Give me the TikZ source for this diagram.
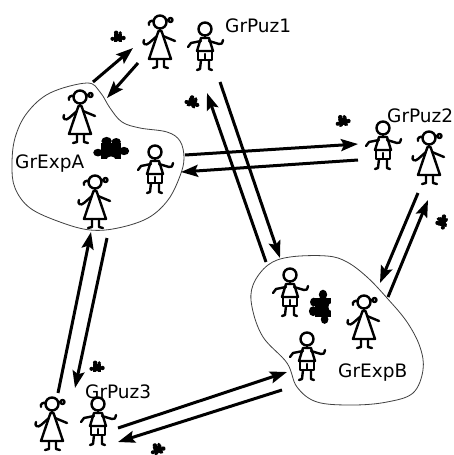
\documentclass[tikz,border=0pt]{standalone}
\usepackage{fontspec}
\setmainfont{DejaVu Sans}
\usetikzlibrary{arrows.meta}
\begin{document}
\begin{tikzpicture}[x=1pt,y=-1pt,
  fig/.style={line width=2.4pt,line cap=round,line join=round},
  blob/.style={line width=0.8pt,draw=black!75},
  flow/.style={line width=3pt,-{Stealth[length=17pt,width=12pt,inset=3pt]}},
  lbl/.style={font=\fontsize{18.5}{20}\selectfont,inner sep=0pt,anchor=base west},
  girl/.pic={
    \draw[fig] (0,0) circle (6.5);
    \draw[fig] (0,6.5) -- (0,9);
    % pigtails
    \draw[fig] (-6,-1) .. controls (-9,-2) and (-12,0) .. (-11,3);
    \draw[fig] (6,-1.5) -- (8.5,-2);
    \draw[fig] (10.5,-2) circle (2);
    % dress
    \draw[fig] (-1.5,9) -- (-11,37) -- (11,37) -- (1.5,9) -- cycle;
    % arms
    \draw[fig] (-3,14) -- (-11,21) .. controls (-14,24) and (-18,22) .. (-16,18);
    \draw[fig] (3,14) -- (15,19);
    % legs
    \draw[fig] (-3,37) -- (-3,45) -- (-7,46);
    \draw[fig] (4,37) -- (4,45) -- (8,46);
  },
  boy/.pic={
    \draw[fig] (0,0) circle (6.5);
    \draw[fig] (0,6.5) -- (0,9);
    % shirt and shorts
    \draw[fig] (-4,9) -- (4,9) -- (8,22) -- (-8,22) -- cycle;
    \draw[fig] (-7,22) rectangle (7,31);
    \draw[fig] (0,25) -- (0,31);
    % arms
    \draw[fig] (-4,12) -- (-14,14) -- (-17,18);
    \draw[fig] (4,12) -- (14,15) .. controls (17,15) .. (18,11);
    % legs
    \draw[fig] (-4,31) -- (-5,40) -- (-8,41);
    \draw[fig] (4,31) -- (4,40) -- (7,41);
  },
  puzzle/.pic={
    \fill (-5,-5) rectangle (5,5);
    \fill (-2.2,-6.2) circle (2.6);
    \fill (2.6,-5.8) circle (2.3);
    \fill (6.5,0) circle (2.6);
    \fill (-6.5,1) circle (2.4);
    \fill[white] (0,5.6) circle (2.2);
  }
]
\useasboundingbox (0,0) rectangle (454,455);
\clip (0,0) rectangle (454,455);
\fill[white] (0,0) rectangle (454,455);

% group outlines
\draw[blob] plot[smooth cycle,tension=0.6] coordinates {
  (87,83) (100,92) (110,108) (122,122) (140,128) (167,132) (180,141)
  (184,158) (180,176) (168,200) (148,218) (118,228) (90,230) (60,222)
  (30,208) (15,188) (12,165) (15,138) (27,113) (50,93)};
\draw[blob] plot[smooth cycle,tension=0.6] coordinates {
  (290,257) (327,256) (347,262) (367,277) (387,298) (407,322) (420,347)
  (423,370) (413,393) (387,402) (353,405) (317,402) (297,387) (287,363)
  (263,337) (252,307) (253,285) (268,265)};

% people
\pic at (160,22) {girl};
\pic at (205,29) {boy};
\pic at (80,97) {girl};
\pic at (155,152) {boy};
\pic at (95,182) {girl};
\pic at (383,128) {boy};
\pic at (429,138) {girl};
\pic at (290,275) {boy};
\pic at (364,302) {girl};
\pic at (307,339) {boy};
\pic at (52,404) {girl};
\pic at (98,404) {boy};

% puzzle pieces
\pic[scale=0.85] at (118,38) {puzzle};
\pic[scale=0.85,rotate=10] at (343,122) {puzzle};
\pic[scale=0.85,rotate=-20] at (192,103) {puzzle};
\pic[scale=0.85,rotate=80] at (443,222) {puzzle};
\pic[scale=0.85] at (97,368) {puzzle};
\pic[scale=0.85,rotate=15] at (158,450) {puzzle};
\pic[xscale=2.0,yscale=1.6] at (111,151) {puzzle};
\pic[xscale=1.6,yscale=1.9,rotate=90] at (323,307) {puzzle};

% labels
\node[lbl] (puz1) at (225,32) {GrPuz1};
\node[lbl] (puz2) at (387,122) {GrPuz2};
\node[lbl] (expA) at (15,168) {GrExpA};
\node[lbl] (puz3) at (85,398) {GrPuz3};
\node[lbl] (expB) at (338,377) {GrExpB};

% connector end points
\coordinate (a1) at (93,82);   \coordinate (p1a) at (133,48);
\coordinate (p1b) at (138,63); \coordinate (a2) at (107,98);
\coordinate (a3) at (185,155); \coordinate (p2a) at (358,144);
\coordinate (p2b) at (358,160); \coordinate (a4) at (181,172);
\coordinate (p1c) at (220,82); \coordinate (b1) at (280,258);
\coordinate (b2) at (266,262); \coordinate (p1d) at (207,93);
\coordinate (p2c) at (418,193); \coordinate (b3) at (380,283);
\coordinate (b4) at (388,297); \coordinate (p2d) at (428,200);
\coordinate (p3a) at (58,393); \coordinate (a5) at (91,232);
\coordinate (a6) at (107,238); \coordinate (p3b) at (75,388);
\coordinate (p3c) at (118,428); \coordinate (b5) at (287,372);
\coordinate (b6) at (282,390); \coordinate (p3d) at (118,442);

% connectors
\draw[flow] (a1) -- (p1a);
\draw[flow] (p1b) -- (a2);
\draw[flow] (a3) -- (p2a);
\draw[flow] (p2b) -- (a4);
\draw[flow] (p1c) -- (b1);
\draw[flow] (b2) -- (p1d);
\draw[flow] (p2c) -- (b3);
\draw[flow] (b4) -- (p2d);
\draw[flow] (p3a) -- (a5);
\draw[flow] (a6) -- (p3b);
\draw[flow] (p3c) -- (b5);
\draw[flow] (b6) -- (p3d);
\end{tikzpicture}
\end{document}
